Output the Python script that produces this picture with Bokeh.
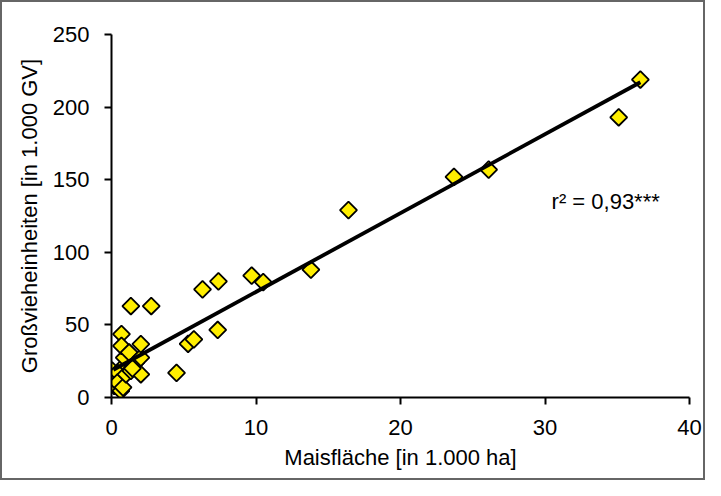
import math
from bokeh.plotting import figure
from bokeh.models import ColumnDataSource, Label, FixedTicker, Range1d
from bokeh.embed import file_html
from bokeh.resources import INLINE

# Maisfläche [1.000 ha]
mais_ha = [0.05, 0.18, 0.41, 0.41, 0.65, 0.80, 0.99, 1.00, 1.34, 1.68, 0.88,
           2.03, 0.69, 0.69, 1.22, 2.03, 2.03, 1.34, 2.75, 1.45,
           4.50, 5.30, 5.70, 7.35, 6.30, 7.40, 9.70, 10.50, 13.80, 16.40,
           23.70, 26.10, 35.10, 36.60]
# Großvieheinheiten [1.000 GV]
gv = [18.5, 8.0, 17.2, 10.3, 4.6, 7.0, 23.0, 16.0, 18.4, 24.0, 27.5,
      16.0, 43.6, 35.6, 31.0, 27.5, 36.7, 63.0, 63.0, 20.0,
      17.0, 37.0, 40.0, 46.5, 74.5, 80.0, 84.0, 79.5, 88.0, 129.0,
      152.0, 157.0, 193.0, 219.0]

fit_slope = 5.43
fit_intercept = 18.4
r2_text = "r² = 0,93***"

x_ticks = [0, 10, 20, 30, 40]
y_ticks = [0, 50, 100, 150, 200, 250]

FONT = "Liberation Sans"
FS = "22px"

p = figure(width=705, height=480, output_backend="svg", toolbar_location=None,
           x_range=Range1d(0, 40), y_range=Range1d(0, 250),
           min_border_left=109, min_border_right=18, min_border_top=32,
           min_border_bottom=85)
p.styles = {"border": "2px solid #666666"}
p.outline_line_color = None
p.grid.visible = False
p.background_fill_color = "white"
p.border_fill_color = "white"

for ax in (p.xaxis[0], p.yaxis[0]):
    ax.axis_line_width = 2
    ax.axis_line_color = "black"
    ax.major_tick_line_width = 2
    ax.major_tick_line_color = "black"
    ax.major_tick_in = 0
    ax.major_tick_out = 7
    ax.minor_tick_line_color = None
    ax.major_label_text_font = FONT
    ax.major_label_text_font_size = FS
    ax.major_label_text_color = "black"
    ax.axis_label_text_font = FONT
    ax.axis_label_text_font_size = FS
    ax.axis_label_text_font_style = "normal"
    ax.axis_label_text_color = "black"

p.xaxis.ticker = FixedTicker(ticks=x_ticks)
p.yaxis.ticker = FixedTicker(ticks=y_ticks)
p.xaxis.axis_label = "Maisfläche [in 1.000 ha]"
p.yaxis.axis_label = "Großvieheinheiten [in 1.000 GV]"
p.xaxis.major_label_standoff = 15
p.xaxis.axis_label_standoff = 7
p.yaxis.major_label_standoff = 15
p.yaxis.axis_label_standoff = 8

src = ColumnDataSource(dict(x=mais_ha, y=gv))
p.scatter("x", "y", source=src, marker="square", size=12, angle=math.pi / 4,
          fill_color="#FFEE00", line_color="black", line_width=1.8)

x0 = min(mais_ha) + 0.08
x1 = max(mais_ha)
p.line([x0, x1], [fit_intercept + fit_slope * x0, fit_intercept + fit_slope * x1],
       line_color="black", line_width=3.8)

p.add_layout(Label(x=34.2, y=135, text=r2_text, text_align="center",
                   text_baseline="middle", text_font=FONT, text_font_size=FS,
                   text_color="black"))

open("out.html", "w").write(file_html(p, INLINE))
